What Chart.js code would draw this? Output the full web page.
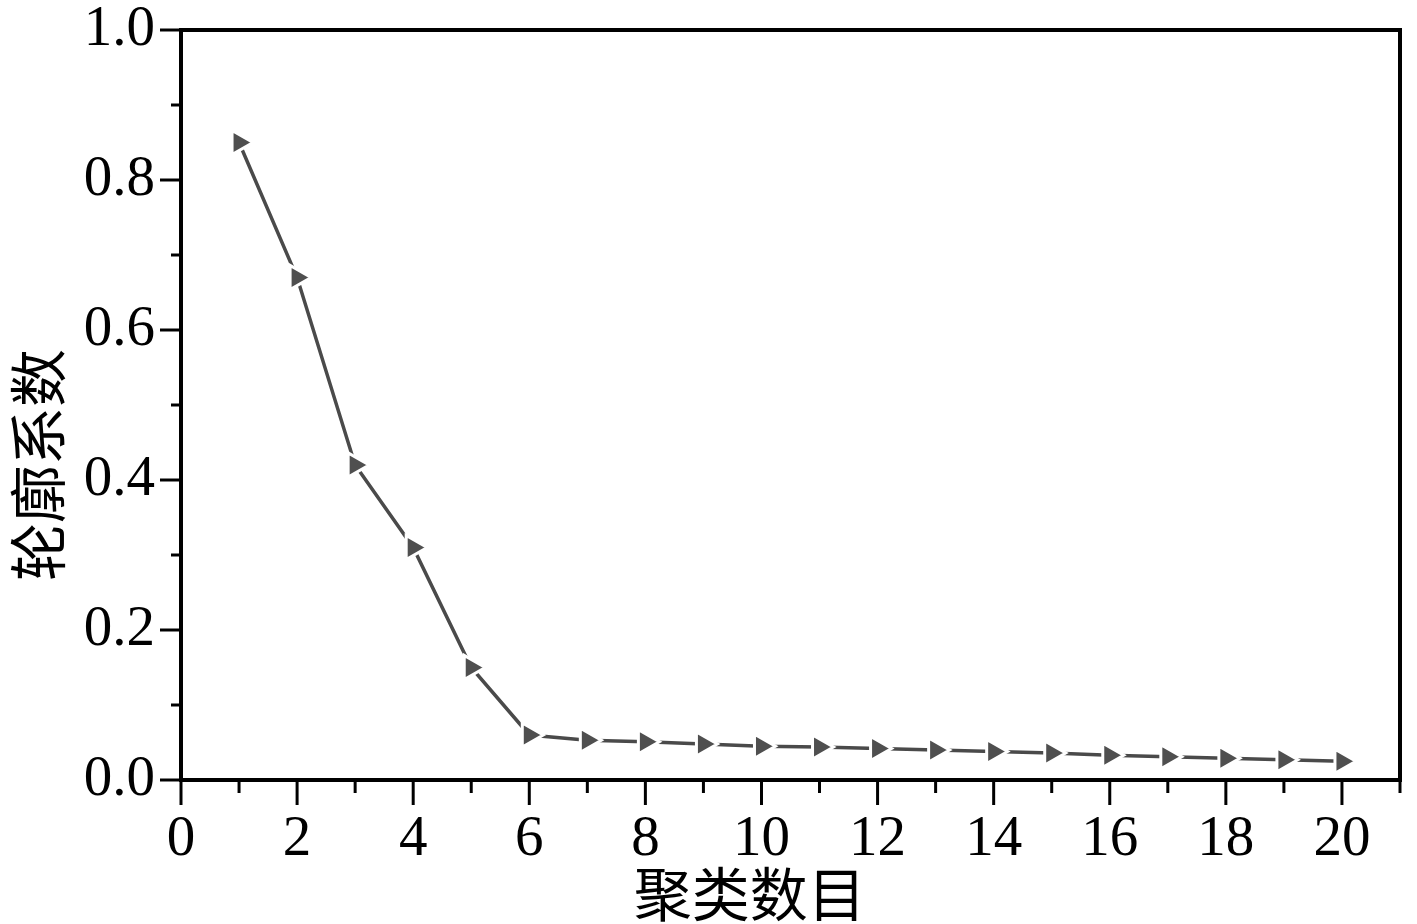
<!DOCTYPE html>
<html>
<head>
<meta charset="utf-8">
<script src="https://cdn.jsdelivr.net/npm/chart.js@4"></script>
<style>
  html, body { margin: 0; padding: 0; background: #fff; }
  #wrap { width: 1417px; height: 924px; }
</style>
</head>
<body>
<div id="wrap"><canvas id="my_chart" width="1417" height="924"></canvas></div>
<script>
// cluster counts and silhouette values
const clusterCounts = [1, 2, 3, 4, 5, 6, 7, 8, 9, 10, 11, 12, 13, 14, 15, 16, 17, 18, 19, 20];
const silhouette = [0.85, 0.67, 0.42, 0.31, 0.15, 0.06, 0.053, 0.051, 0.048, 0.045,
  0.044, 0.042, 0.040, 0.038, 0.036, 0.033, 0.031, 0.029, 0.027, 0.025];
const xLabels = ["0", "2", "4", "6", "8", "10", "12", "14", "16", "18", "20"];
const yLabels = ["0.0", "0.2", "0.4", "0.6", "0.8", "1.0"];
const xTitle = "聚类数目";
const yTitle = "轮廓系数";

const serif = "'Liberation Serif', 'Times New Roman', serif";
const cjk = "'Noto Sans CJK SC', sans-serif";

// frame, outward ticks (major / minor) and axis titles
const framePlugin = {
  id: "frame",
  afterDraw(chart) {
    const { ctx, chartArea } = chart;
    const xs = chart.scales.x;
    const ys = chart.scales.y;
    ctx.save();
    ctx.strokeStyle = "#000";
    ctx.lineWidth = 3;
    for (const t of xs.ticks) {
      const px = xs.getPixelForValue(t.value);
      const len = t.value % 2 === 0 ? 25 : 13;
      ctx.beginPath();
      ctx.moveTo(px, chartArea.bottom);
      ctx.lineTo(px, chartArea.bottom + len);
      ctx.stroke();
    }
    for (const t of ys.ticks) {
      const py = ys.getPixelForValue(t.value);
      const major = Math.round(t.value * 10) % 2 === 0;
      const len = major ? 21 : 10;
      ctx.beginPath();
      ctx.moveTo(chartArea.left, py);
      ctx.lineTo(chartArea.left - len, py);
      ctx.stroke();
    }
    ctx.lineWidth = 4;
    ctx.strokeRect(chartArea.left, chartArea.top, chartArea.right - chartArea.left, chartArea.bottom - chartArea.top);

    ctx.fillStyle = "#000";
    ctx.font = "58px " + cjk;
    ctx.textAlign = "center";
    ctx.textBaseline = "middle";
    ctx.fillText(xTitle, xs.getPixelForValue(9.8), chartArea.bottom + 114);
    ctx.translate(38, ys.getPixelForValue(0.42));
    ctx.rotate(-Math.PI / 2);
    ctx.fillText(yTitle, 0, 0);
    ctx.restore();
  },
};

new Chart(document.getElementById("my_chart"), {
  type: "line",
  data: {
    datasets: [
      {
        data: clusterCounts.map((c, i) => ({ x: c, y: silhouette[i] })),
        borderColor: "#4a4a4a",
        borderWidth: 3.5,
        fill: false,
        tension: 0,
        pointStyle: "triangle",
        rotation: 90,
        pointRadius: 14,
        pointBackgroundColor: "#4f4f4f",
        pointBorderColor: "#fff",
        pointBorderWidth: 3,
      },
    ],
  },
  plugins: [framePlugin],
  options: {
    responsive: false,
    animation: false,
    layout: { padding: 0 },
    plugins: {
      legend: { display: false },
      tooltip: { enabled: false },
    },
    scales: {
      x: {
        type: "linear",
        min: 0,
        max: 21,
        afterFit: (s) => {
          s.height = 144;
          s.paddingLeft = 0;
          s.paddingRight = 13;
        },
        grid: { display: false, drawTicks: false },
        border: { display: false },
        ticks: {
          stepSize: 1,
          autoSkip: false,
          maxRotation: 0,
          padding: 26,
          color: "#000",
          font: { family: serif, size: 57 },
          callback: (v) => (v % 2 === 0 && v <= 20 ? xLabels[v / 2] : ""),
        },
      },
      y: {
        min: 0,
        max: 1,
        afterFit: (s) => {
          s.width = 181;
          s.paddingTop = 30;
          s.paddingBottom = 0;
        },
        grid: { display: false, drawTicks: false },
        border: { display: false },
        ticks: {
          stepSize: 0.1,
          autoSkip: false,
          padding: 26,
          color: "#000",
          font: { family: serif, size: 57 },
          callback: (v) => {
            const k = Math.round(v * 10);
            return k % 2 === 0 ? yLabels[k / 2] : "";
          },
        },
      },
    },
  },
});
</script>
</body>
</html>
